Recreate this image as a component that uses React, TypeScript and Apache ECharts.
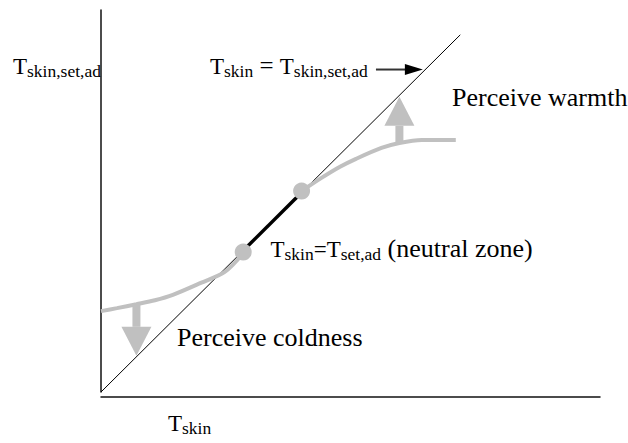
import React, { useEffect, useRef } from "react";
import * as echarts from "echarts";

// ---- data (schematic units) ----
const xExtent = [0, 100];
const yExtent = [0, 77];
const identityLine = [
  [0, 0],
  [72, 72],
];
const neutralSegment = [
  [28.5, 28.5],
  [40.3, 40.3],
];
const coldCurve = [
  [0, 16.3],
  [3.2, 16.9],
  [7.1, 17.7],
  [10.8, 18.5],
  [14.4, 19.6],
  [20.0, 22.0],
  [24.8, 24.2],
  [28.6, 28.1],
];
const warmCurve = [
  [40.2, 40.5],
  [44.1, 43.1],
  [47.9, 45.4],
  [51.1, 47.0],
  [56.2, 49.2],
  [59.8, 50.2],
  [64.3, 50.8],
  [71.1, 50.8],
];
const neutralDots = [
  [28.5, 28.2],
  [40.2, 40.5],
];
// x, from y, to y
const perceptionArrows = [
  [7.1, 17.7, 7.3],
  [59.8, 50.2, 59.5],
];
// x from, y, x to
const pointerArrow = [[55.1, 65.0, 64.5]];

// ---- labels ----
type Part = { t: string; sub?: boolean; size?: number };
const yAxisLabel: Part[] = [{ t: "T" }, { t: "skin,set,ad", sub: true }];
const identityLabel: Part[] = [
  { t: "T" },
  { t: "skin", sub: true },
  { t: " = ", size: 25 },
  { t: "T" },
  { t: "skin,set,ad", sub: true },
];
const neutralLabel: Part[] = [
  { t: "T" },
  { t: "skin", sub: true },
  { t: "=" },
  { t: "T" },
  { t: "set,ad", sub: true },
  { t: " (neutral zone)", size: 26 },
];
const warmLabel: Part[] = [{ t: "Perceive warmth", size: 26 }];
const coldLabel: Part[] = [{ t: "Perceive coldness", size: 26 }];
const xAxisLabel: Part[] = [{ t: "T" }, { t: "skin", sub: true }];

const FONT = "Liberation Serif";
const MAIN = 23;
const SUB = 17.5;
const SUB_DROP = 3.3;
const GRAY = "#c0c0c0";

let ctx: CanvasRenderingContext2D | null = null;
function measure(text: string, size: number) {
  if (!ctx) ctx = document.createElement("canvas").getContext("2d");
  if (!ctx) return text.length * size * 0.5;
  ctx.font = `${size}px "${FONT}"`;
  return ctx.measureText(text).width;
}

function buildLabel(x: number, baseline: number, parts: Part[]) {
  let cx = x;
  const children: any[] = [];
  for (const p of parts) {
    const size = p.sub ? SUB : p.size ?? MAIN;
    const bl = baseline + (p.sub ? SUB_DROP : 0);
    children.push({
      type: "text",
      x: cx,
      y: bl - 0.3375 * size,
      style: {
        text: p.t,
        fontSize: size,
        fontFamily: FONT,
        fill: "#000",
        textAlign: "left",
        textVerticalAlign: "middle",
      },
    });
    cx += measure(p.t, size);
  }
  return { type: "group", children };
}

export default function App() {
  const ref = useRef<HTMLDivElement>(null);
  useEffect(() => {
    document.body.style.margin = "0";
    if (!ref.current) return;
    const chart = echarts.init(ref.current, undefined, { renderer: "svg" });
    const option: any = {
      animation: false,
      backgroundColor: "#ffffff",
      grid: { left: 101, right: 28, top: 10, bottom: 51 },
      xAxis: {
        type: "value",
        min: xExtent[0],
        max: xExtent[1],
        offset: 5,
        axisLine: { show: true, onZero: false, lineStyle: { color: "#111", width: 1.5 } },
        axisTick: { show: false },
        axisLabel: { show: false },
        splitLine: { show: false },
      },
      yAxis: {
        type: "value",
        min: yExtent[0],
        max: yExtent[1],
        axisLine: { show: true, onZero: false, lineStyle: { color: "#111", width: 1.5 } },
        axisTick: { show: false },
        axisLabel: { show: false },
        splitLine: { show: false },
      },
      series: [
        {
          type: "line",
          data: identityLine,
          showSymbol: false,
          silent: true,
          lineStyle: { color: "#000", width: 1 },
          z: 2,
        },
        {
          type: "line",
          data: coldCurve,
          showSymbol: false,
          silent: true,
          smooth: 0.3,
          lineStyle: { color: GRAY, width: 4 },
          z: 3,
        },
        {
          type: "line",
          data: warmCurve,
          showSymbol: false,
          silent: true,
          smooth: 0.3,
          lineStyle: { color: GRAY, width: 4 },
          z: 3,
        },
        {
          type: "line",
          data: neutralSegment,
          showSymbol: false,
          silent: true,
          lineStyle: { color: "#000", width: 3.5 },
          z: 4,
        },
        {
          type: "scatter",
          data: neutralDots,
          symbolSize: 17,
          silent: true,
          itemStyle: { color: GRAY, opacity: 1 },
          z: 5,
        },
        {
          type: "custom",
          data: perceptionArrows,
          encode: { x: 0, y: [1, 2] },
          silent: true,
          z: 6,
          renderItem: (params: any, api: any) => {
            const a = api.coord([api.value(0), api.value(1)]);
            const b = api.coord([api.value(0), api.value(2)]);
            const dir = b[1] > a[1] ? 1 : -1;
            const headLen = 29;
            const headHalf = 15;
            const shaftHalf = 4;
            const baseY = b[1] - dir * headLen;
            return {
              type: "group",
              children: [
                {
                  type: "rect",
                  shape: {
                    x: a[0] - shaftHalf,
                    y: Math.min(a[1], baseY),
                    width: shaftHalf * 2,
                    height: Math.abs(baseY - a[1]),
                  },
                  style: { fill: GRAY },
                },
                {
                  type: "polygon",
                  shape: {
                    points: [
                      [a[0] - headHalf, baseY],
                      [a[0] + headHalf, baseY],
                      [b[0], b[1]],
                    ],
                  },
                  style: { fill: GRAY },
                },
              ],
            };
          },
        },
        {
          type: "custom",
          data: pointerArrow,
          encode: { x: [0, 2], y: 1 },
          silent: true,
          z: 6,
          renderItem: (params: any, api: any) => {
            const a = api.coord([api.value(0), api.value(1)]);
            const b = api.coord([api.value(2), api.value(1)]);
            const headLen = 18;
            const headHalf = 5.5;
            return {
              type: "group",
              children: [
                {
                  type: "line",
                  shape: { x1: a[0], y1: a[1], x2: b[0] - headLen + 1, y2: b[1] },
                  style: { stroke: "#333", lineWidth: 2 },
                },
                {
                  type: "polygon",
                  shape: {
                    points: [
                      [b[0] - headLen, b[1] - headHalf],
                      [b[0] - headLen, b[1] + headHalf],
                      [b[0], b[1]],
                    ],
                  },
                  style: { fill: "#000" },
                },
              ],
            };
          },
        },
      ],
      graphic: [
        buildLabel(13, 74, yAxisLabel),
        buildLabel(210, 74, identityLabel),
        buildLabel(270.5, 257, neutralLabel),
        buildLabel(452, 106, warmLabel),
        buildLabel(177, 346, coldLabel),
        buildLabel(168, 431, xAxisLabel),
      ],
    };
    chart.setOption(option);
    return () => chart.dispose();
  }, []);
  return <div ref={ref} style={{ width: 628, height: 443 }} />;
}
